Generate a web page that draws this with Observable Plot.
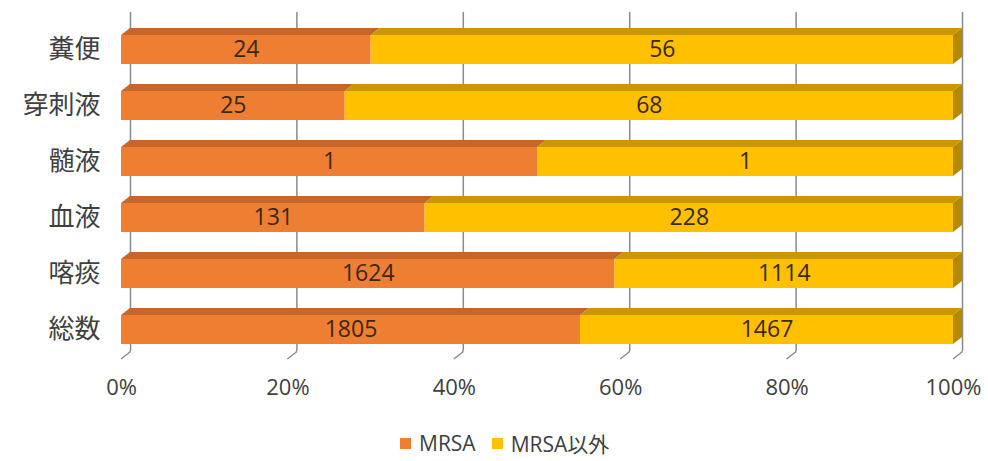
<!DOCTYPE html>
<html><head><meta charset="utf-8">
<script src="https://cdn.jsdelivr.net/npm/d3@7"></script>
<script src="https://cdn.jsdelivr.net/npm/@observablehq/plot@0.6"></script>
<style>
html,body{margin:0;padding:0;background:#fff;}
#chart svg{display:block;}
#legend{display:flex;align-items:center;height:26px;margin-left:400px;font-family:"Open Sans","Noto Sans CJK JP",sans-serif;font-size:21px;color:#404040;}
#legend .sw{width:11px;height:11px;display:inline-block;margin-right:8px;}
#legend .it{display:flex;align-items:center;margin-right:16px;}
</style></head><body>
<div id="chart"></div>
<div id="legend"></div>
<script>
const categories = ["糞便","穿刺液","髄液","血液","喀痰","総数"];
const seriesNames = ["MRSA","MRSA以外"];
const mrsa = [24,25,1,131,1624,1805];
const other = [56,68,1,228,1114,1467];
const xTicks = [0,0.2,0.4,0.6,0.8,1];
const tickLabels = ["0%","20%","40%","60%","80%","100%"];
const colors = ["#EE7E32","#FFC000"];
const topColors = ["#C6662A","#C99800"];
const sideColors = ["#B35B22","#B68A00"];

const DX = 9, DY = 7;

const rows = [];
categories.forEach((cat, i) => {
  const vals = [mrsa[i], other[i]];
  const tot = vals[0] + vals[1];
  let acc = 0;
  vals.forEach((v, s) => {
    rows.push({cat, series: seriesNames[s], s, value: v, x1: acc / tot, x2: (acc + v) / tot, last: s === vals.length - 1});
    acc += v;
  });
});

function bandOf(y) { return typeof y.bandwidth === "function" ? y.bandwidth() : y.bandwidth; }

// back-wall diagonal tick marks
function floorTicks(index, scales) {
  const x = scales.x;
  const g = d3.create("svg:g").attr("stroke", "#8a8a8a").attr("stroke-width", 1.5).attr("fill", "none");
  for (const t of xTicks) {
    g.append("path").attr("d", `M${x(t) + DX},351L${x(t) + DX},352L${x(t)},359`);
  }
  return g.node();
}

// 3D top and side faces of the bars
function faces(index, scales) {
  const {x, y} = scales;
  const bw = bandOf(y);
  const g = d3.create("svg:g");
  for (const d of rows) {
    const X1 = x(d.x1), X2 = x(d.x2), Y = y(d.cat);
    g.append("path")
      .attr("d", `M${X1},${Y}L${X1 + DX},${Y - DY}L${X2 + DX},${Y - DY}L${X2},${Y}Z`)
      .attr("fill", topColors[d.s]);
    if (d.last) {
      g.append("path")
        .attr("d", `M${X2},${Y}L${X2 + DX},${Y - DY}L${X2 + DX},${Y + bw - DY}L${X2},${Y + bw}Z`)
        .attr("fill", sideColors[d.s]);
    }
  }
  return g.node();
}

const chart = Plot.plot({
  width: 988,
  height: 430,
  marginLeft: 121,
  marginRight: 35,
  marginTop: 12,
  marginBottom: 79,
  style: {background: "#fff", overflow: "visible"},
  x: {domain: [0, 1], axis: null},
  y: {domain: categories, range: [19, 359], paddingInner: 0.49, paddingOuter: 0.245, axis: null},
  marks: [
    Plot.ruleX(xTicks, {x: d => d, dx: DX, stroke: "#8a8a8a", strokeWidth: 1.5, strokeOpacity: 1}),
    floorTicks,
    faces,
    Plot.barX(rows, {x1: "x1", x2: "x2", y: "cat", fill: d => colors[d.s]}),
    Plot.text(rows, {x: d => (d.x1 + d.x2) / 2, y: "cat", text: d => String(d.value), fill: "#3a2812", fontSize: 23, fontFamily: "Open Sans, Noto Sans CJK JP, sans-serif"}),
    Plot.text(categories, {y: d => d, text: d => d, frameAnchor: "left", textAnchor: "end", dx: -21, fill: "#404040", fontSize: 26, fontFamily: "Noto Sans CJK JP, sans-serif", style: "letter-spacing:3px"}),
    Plot.text(xTicks, {x: d => d, text: (d, i) => tickLabels[i], frameAnchor: "bottom", dy: 43, fill: "#404040", fontSize: 22, fontFamily: "Open Sans, Noto Sans CJK JP, sans-serif"})
  ]
});
document.getElementById("chart").appendChild(chart);

const legend = document.getElementById("legend");
seriesNames.forEach((n, i) => {
  const it = document.createElement("span");
  it.className = "it";
  const sw = document.createElement("span");
  sw.className = "sw";
  sw.style.background = colors[i];
  it.appendChild(sw);
  it.appendChild(document.createTextNode(n));
  legend.appendChild(it);
});
</script>
</body></html>
